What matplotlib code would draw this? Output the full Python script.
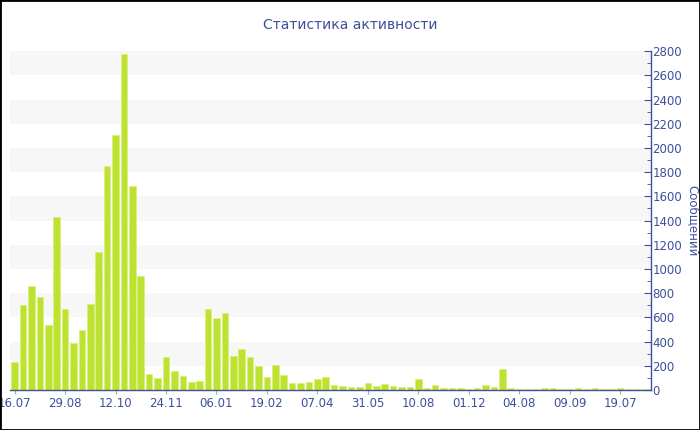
import matplotlib

matplotlib.use("Agg")
import matplotlib.pyplot as plt
from matplotlib.patches import Rectangle
from matplotlib.ticker import MultipleLocator
import numpy as np

# weekly message counts
messages = [
    234, 702, 861, 771, 537, 1426, 672, 391, 498, 707,
    1142, 1852, 2106, 2780, 1682, 939, 130, 100, 274, 154,
    116, 66, 77, 666, 592, 639, 284, 336, 270, 195,
    107, 209, 120, 55, 61, 63, 94, 107, 39, 33,
    22, 22, 58, 30, 47, 30, 22, 25, 91, 14,
    44, 17, 17, 17, 12, 17, 39, 22, 173, 14,
    8, 6, 6, 14, 14, 6, 6, 19, 8, 17,
    6, 8, 14, 6, 6, 6,
]
tick_labels = ["16.07", "29.08", "12.10", "24.11", "06.01", "19.02", "07.04",
               "31.05", "10.08", "01.12", "04.08", "09.09", "19.07"]
tick_step = 6

title = "Статистика активности"
y_label = "Сообщений"

ink = "#3e4f9c"
bar_color = "#bde232"

fig = plt.figure(figsize=(7.0, 4.3), dpi=100)
ax = fig.add_axes([0.0143, 0.093, 0.916, 0.788])

x = np.arange(len(messages))
ax.bar(x, messages, width=0.78, color=bar_color, edgecolor="#d9f07a",
       linewidth=0.6, zorder=3)

# alternating horizontal bands
for lo in range(200, 2800, 400):
    ax.axhspan(lo, lo + 200, color="#f7f7f7", zorder=0, linewidth=0)

ax.set_xlim(-0.55, len(messages) - 0.3)
ax.set_ylim(0, 2800)

ax.set_xticks(x[::tick_step][:len(tick_labels)])
ax.set_xticklabels(tick_labels)
ax.yaxis.tick_right()
ax.yaxis.set_label_position("right")
ax.yaxis.set_major_locator(MultipleLocator(200))
ax.yaxis.set_minor_locator(MultipleLocator(100))
ax.tick_params(axis="y", which="major", direction="in", length=5,
               color=ink, labelcolor=ink, labelsize=8.5, pad=1)
ax.tick_params(axis="y", which="minor", direction="in", length=3, color=ink)
ax.tick_params(axis="x", direction="out", length=3, color="#aaaaaa",
               labelcolor=ink, labelsize=8.5, pad=2)

for side in ("left", "top"):
    ax.spines[side].set_visible(False)
for side in ("right", "bottom"):
    ax.spines[side].set_color(ink)
    ax.spines[side].set_linewidth(1.0)
ax.spines["bottom"].set_zorder(4)

ax.set_ylabel(y_label, color=ink, fontsize=8.5, rotation=-90, labelpad=12)
fig.text(0.5, 0.942, title, ha="center", va="center", color=ink, fontsize=10)

fig.patches.append(Rectangle((0, 0), 1, 1, transform=fig.transFigure,
                             fill=False, edgecolor="black", linewidth=2))

fig.savefig("out.png", dpi=100)
plt.close(fig)
